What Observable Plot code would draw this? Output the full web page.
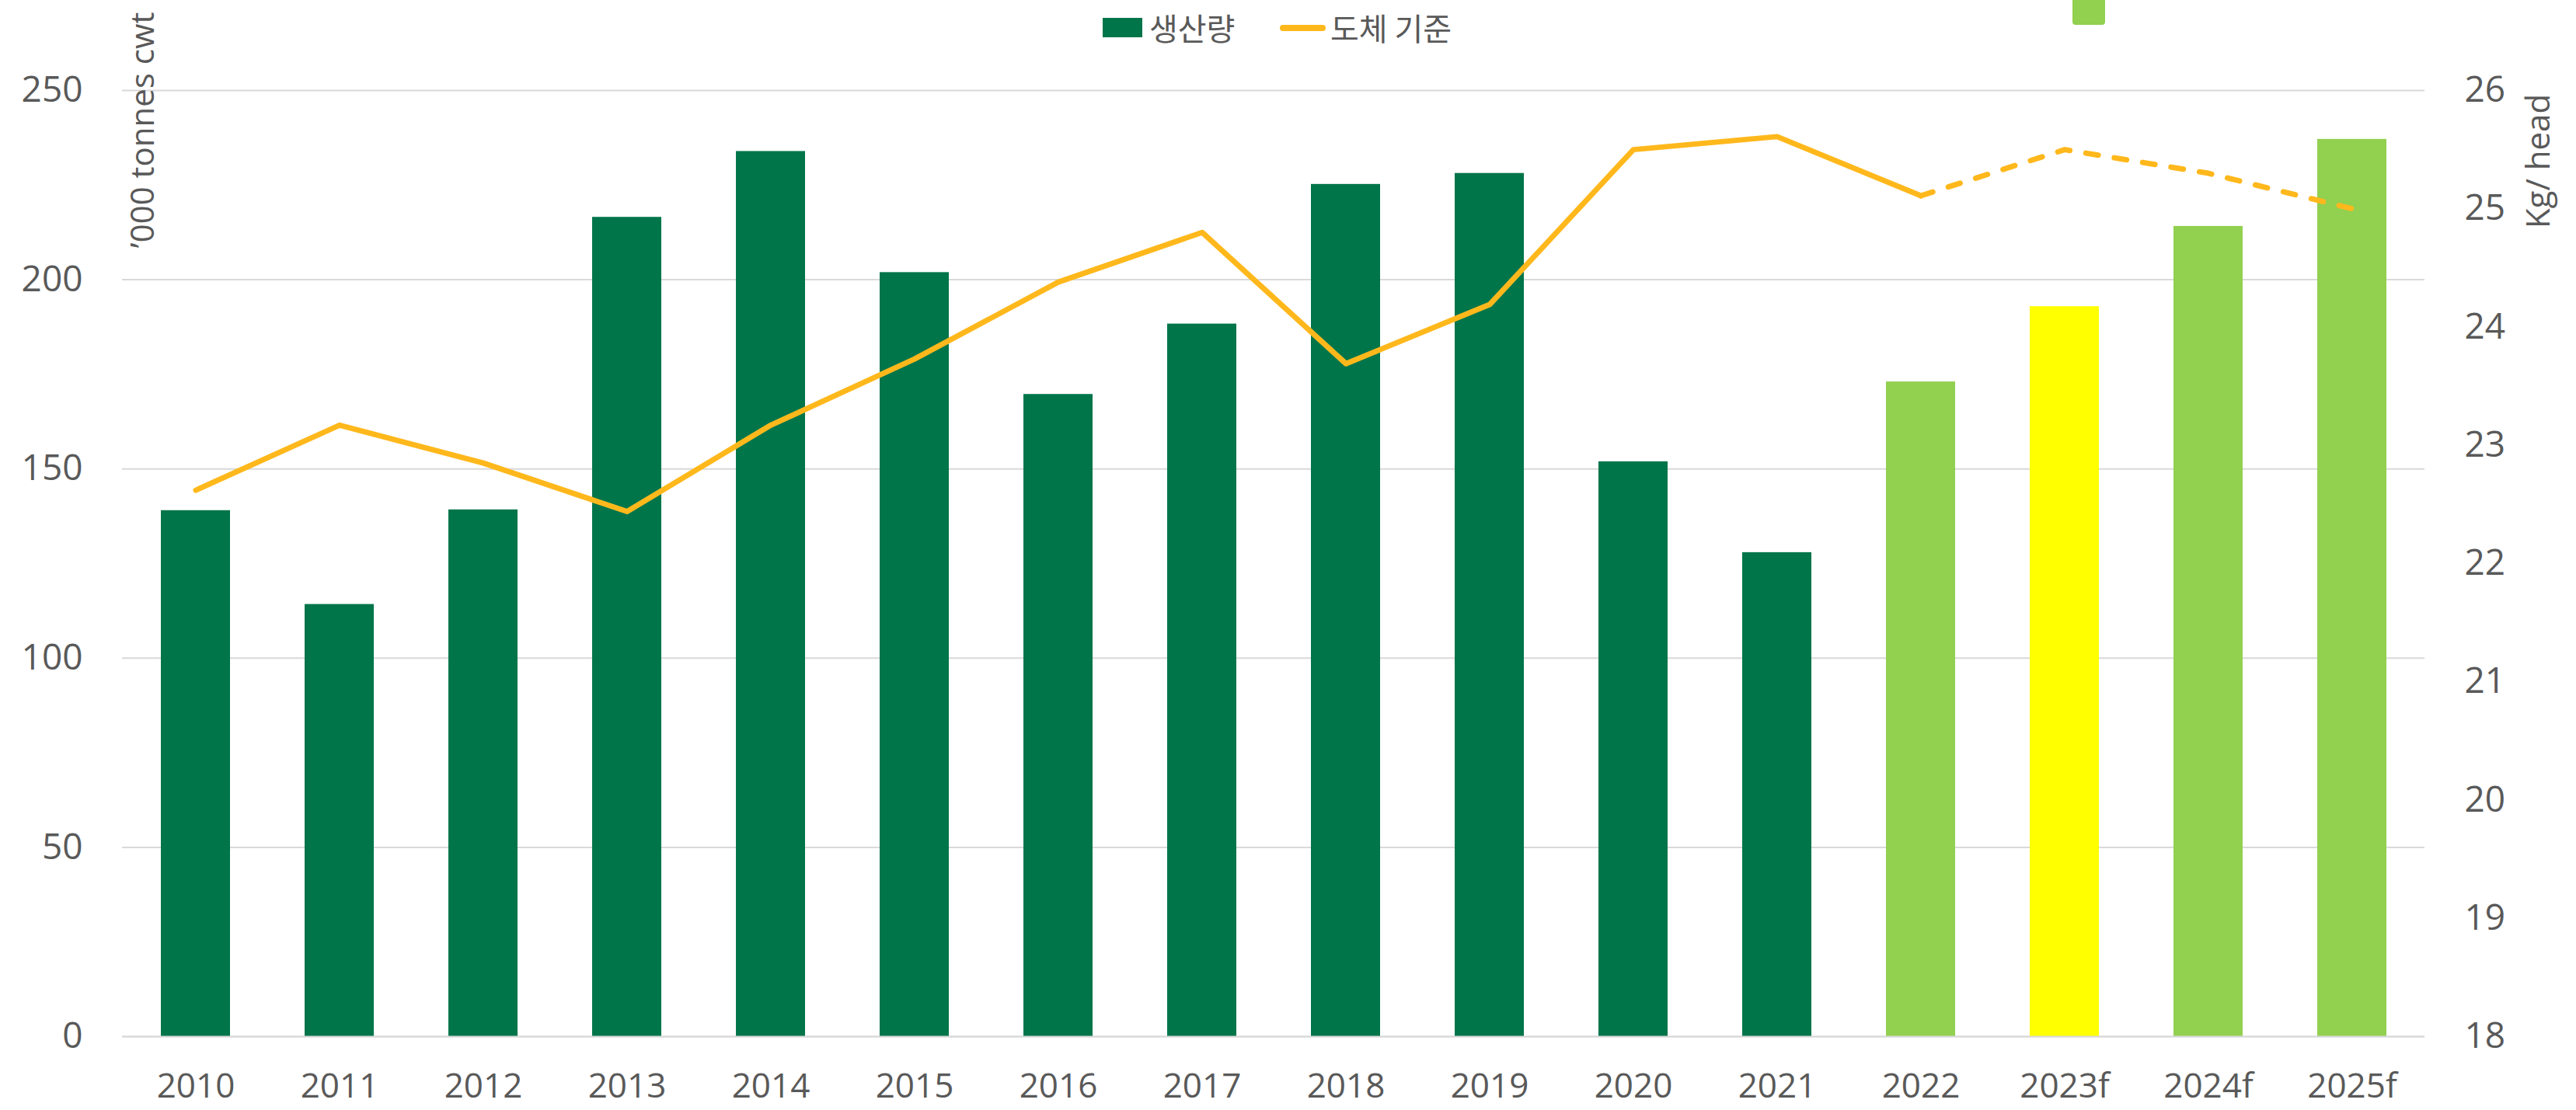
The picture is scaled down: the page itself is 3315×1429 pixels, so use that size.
<!DOCTYPE html>
<html>
<head>
<meta charset="utf-8">
<script src="https://cdn.jsdelivr.net/npm/d3@7"></script>
<script src="https://cdn.jsdelivr.net/npm/@observablehq/plot@0.6"></script>
<style>
  html, body { margin: 0; padding: 0; background: #ffffff; }
  #wrap { position: relative; width: 3315px; height: 1429px; overflow: hidden; }
  #legend { position: absolute; top: 0; left: 0; width: 3315px; height: 72px; font-family: "Noto Sans CJK KR", "Noto Sans", sans-serif; font-size: 40px; color: #595959; }
  .lg { position: absolute; }
  .lt { position: absolute; top: 0; line-height: 70px; white-space: nowrap; }
  #chart { position: absolute; top: 0; left: 0; }
</style>
</head>
<body>
<div id="wrap">
  <div id="chart"></div>
  <div id="legend"></div>
</div>
<script>
// ---- data ----
const years = ["2010","2011","2012","2013","2014","2015","2016","2017","2018","2019","2020","2021","2022","2023f","2024f","2025f"];
const production = [139, 114.2, 139.2, 216.5, 233.9, 201.9, 169.7, 188.3, 225.2, 228.1, 151.9, 127.9, 173.0, 192.9, 214.1, 237.1];
const carcassWeight = [22.62, 23.17, 22.85, 22.44, 23.17, 23.73, 24.38, 24.80, 23.69, 24.19, 25.50, 25.61, 25.11, 25.50, 25.30, 25.00];
const barKind = ["actual","actual","actual","actual","actual","actual","actual","actual","actual","actual","actual","actual","estimate","highlight","forecast","forecast"];
const kinds = ["actual", "estimate", "highlight", "forecast"];
const kindColors = ["#00754A", "#92D050", "#FFFF00", "#92D050"];
const lineDashed = [false,false,false,false,false,false,false,false,false,false,false,false,false,true,true,true];
const leftTicks = [0, 50, 100, 150, 200, 250];
const rightTicks = [18, 19, 20, 21, 22, 23, 24, 25, 26];
const legendLabels = ["생산량", "도체 기준"];
const leftTitle = "\u2019000 tonnes cwt";
const rightTitle = "Kg/ head";

// secondary axis mapping (kg/head 18..26 onto 0..250)
const kgMin = 18, kgMax = 26, leftMax = 250;
const toLeft = k => (k - kgMin) * leftMax / (kgMax - kgMin);
const fromLeft = v => Math.round(v * (kgMax - kgMin) / leftMax + kgMin);

const rows = years.map((y, i) => ({year: y, prod: production[i], kg: carcassWeight[i], kind: barKind[i], dashed: lineDashed[i]}));
const solidRows = rows.filter(d => !d.dashed);
const dashedStart = rows.findIndex(d => d.dashed) - 1;
const dashedRows = rows.slice(dashedStart);

const textColor = "#595959";
const lineColor = "#FFB81C";
const gridColor = "#D9D9D9";

const chart = Plot.plot({
  width: 3315,
  height: 1429,
  marginTop: 116,
  marginBottom: 95,
  marginLeft: 157,
  marginRight: 195,
  style: {fontFamily: "'Open Sans', sans-serif", fontSize: "46px", color: textColor, background: "#ffffff", overflow: "visible"},
  x: {domain: years, paddingInner: 0.52, paddingOuter: 0.26, label: null},
  y: {domain: [0, leftMax], label: null},
  color: {domain: kinds, range: kindColors},
  marks: [
    Plot.gridY(leftTicks, {stroke: gridColor, strokeOpacity: 1, strokeWidth: 2}),
    Plot.barY(rows, {x: "year", y: "prod", fill: "kind"}),
    Plot.ruleY([0], {stroke: gridColor, strokeWidth: 2}),
    Plot.line(solidRows, {x: "year", y: d => toLeft(d.kg), stroke: lineColor, strokeWidth: 7, strokeLinejoin: "round", strokeLinecap: "round"}),
    Plot.line(dashedRows, {x: "year", y: d => toLeft(d.kg), stroke: lineColor, strokeWidth: 7, strokeLinejoin: "round", strokeLinecap: "round", strokeDasharray: "16,21"}),
    Plot.axisY(leftTicks, {anchor: "left", tickSize: 0, tickPadding: 51, label: null, fill: textColor}),
    Plot.axisY(rightTicks.map(toLeft), {anchor: "right", tickSize: 0, tickPadding: 51, label: null, tickFormat: d => String(fromLeft(d)), fill: textColor}),
    Plot.axisX({tickSize: 0, tickPadding: 47, label: null, fill: textColor, fontSize: 44}),
    Plot.text([leftTitle], {frameAnchor: "top-left", dx: 40, dy: 51, rotate: -90, textAnchor: "middle", lineAnchor: "bottom", fontSize: 42, fill: textColor}),
    Plot.text([rightTitle], {frameAnchor: "top-right", dx: 160, dy: 91, rotate: -90, textAnchor: "middle", lineAnchor: "bottom", fontSize: 42, fill: textColor})
  ]
});
document.getElementById("chart").appendChild(chart);

// ---- legend (HTML above the chart) ----
const legend = document.getElementById("legend");
legend.innerHTML = `
  <div class="lg" style="left:1419px;top:23px;width:51px;height:25px;background:${kindColors[0]}"></div>
  <div class="lt" style="left:1479px">${legendLabels[0]}</div>
  <div class="lg" style="left:1647px;top:32px;width:59px;height:8px;border-radius:4px;background:${lineColor}"></div>
  <div class="lt" style="left:1712px">${legendLabels[1]}</div>
  <div class="lg" style="left:2667px;top:0px;width:42px;height:32px;background:${kindColors[3]};border-radius:0 0 4px 4px"></div>
`;
</script>
</body>
</html>
